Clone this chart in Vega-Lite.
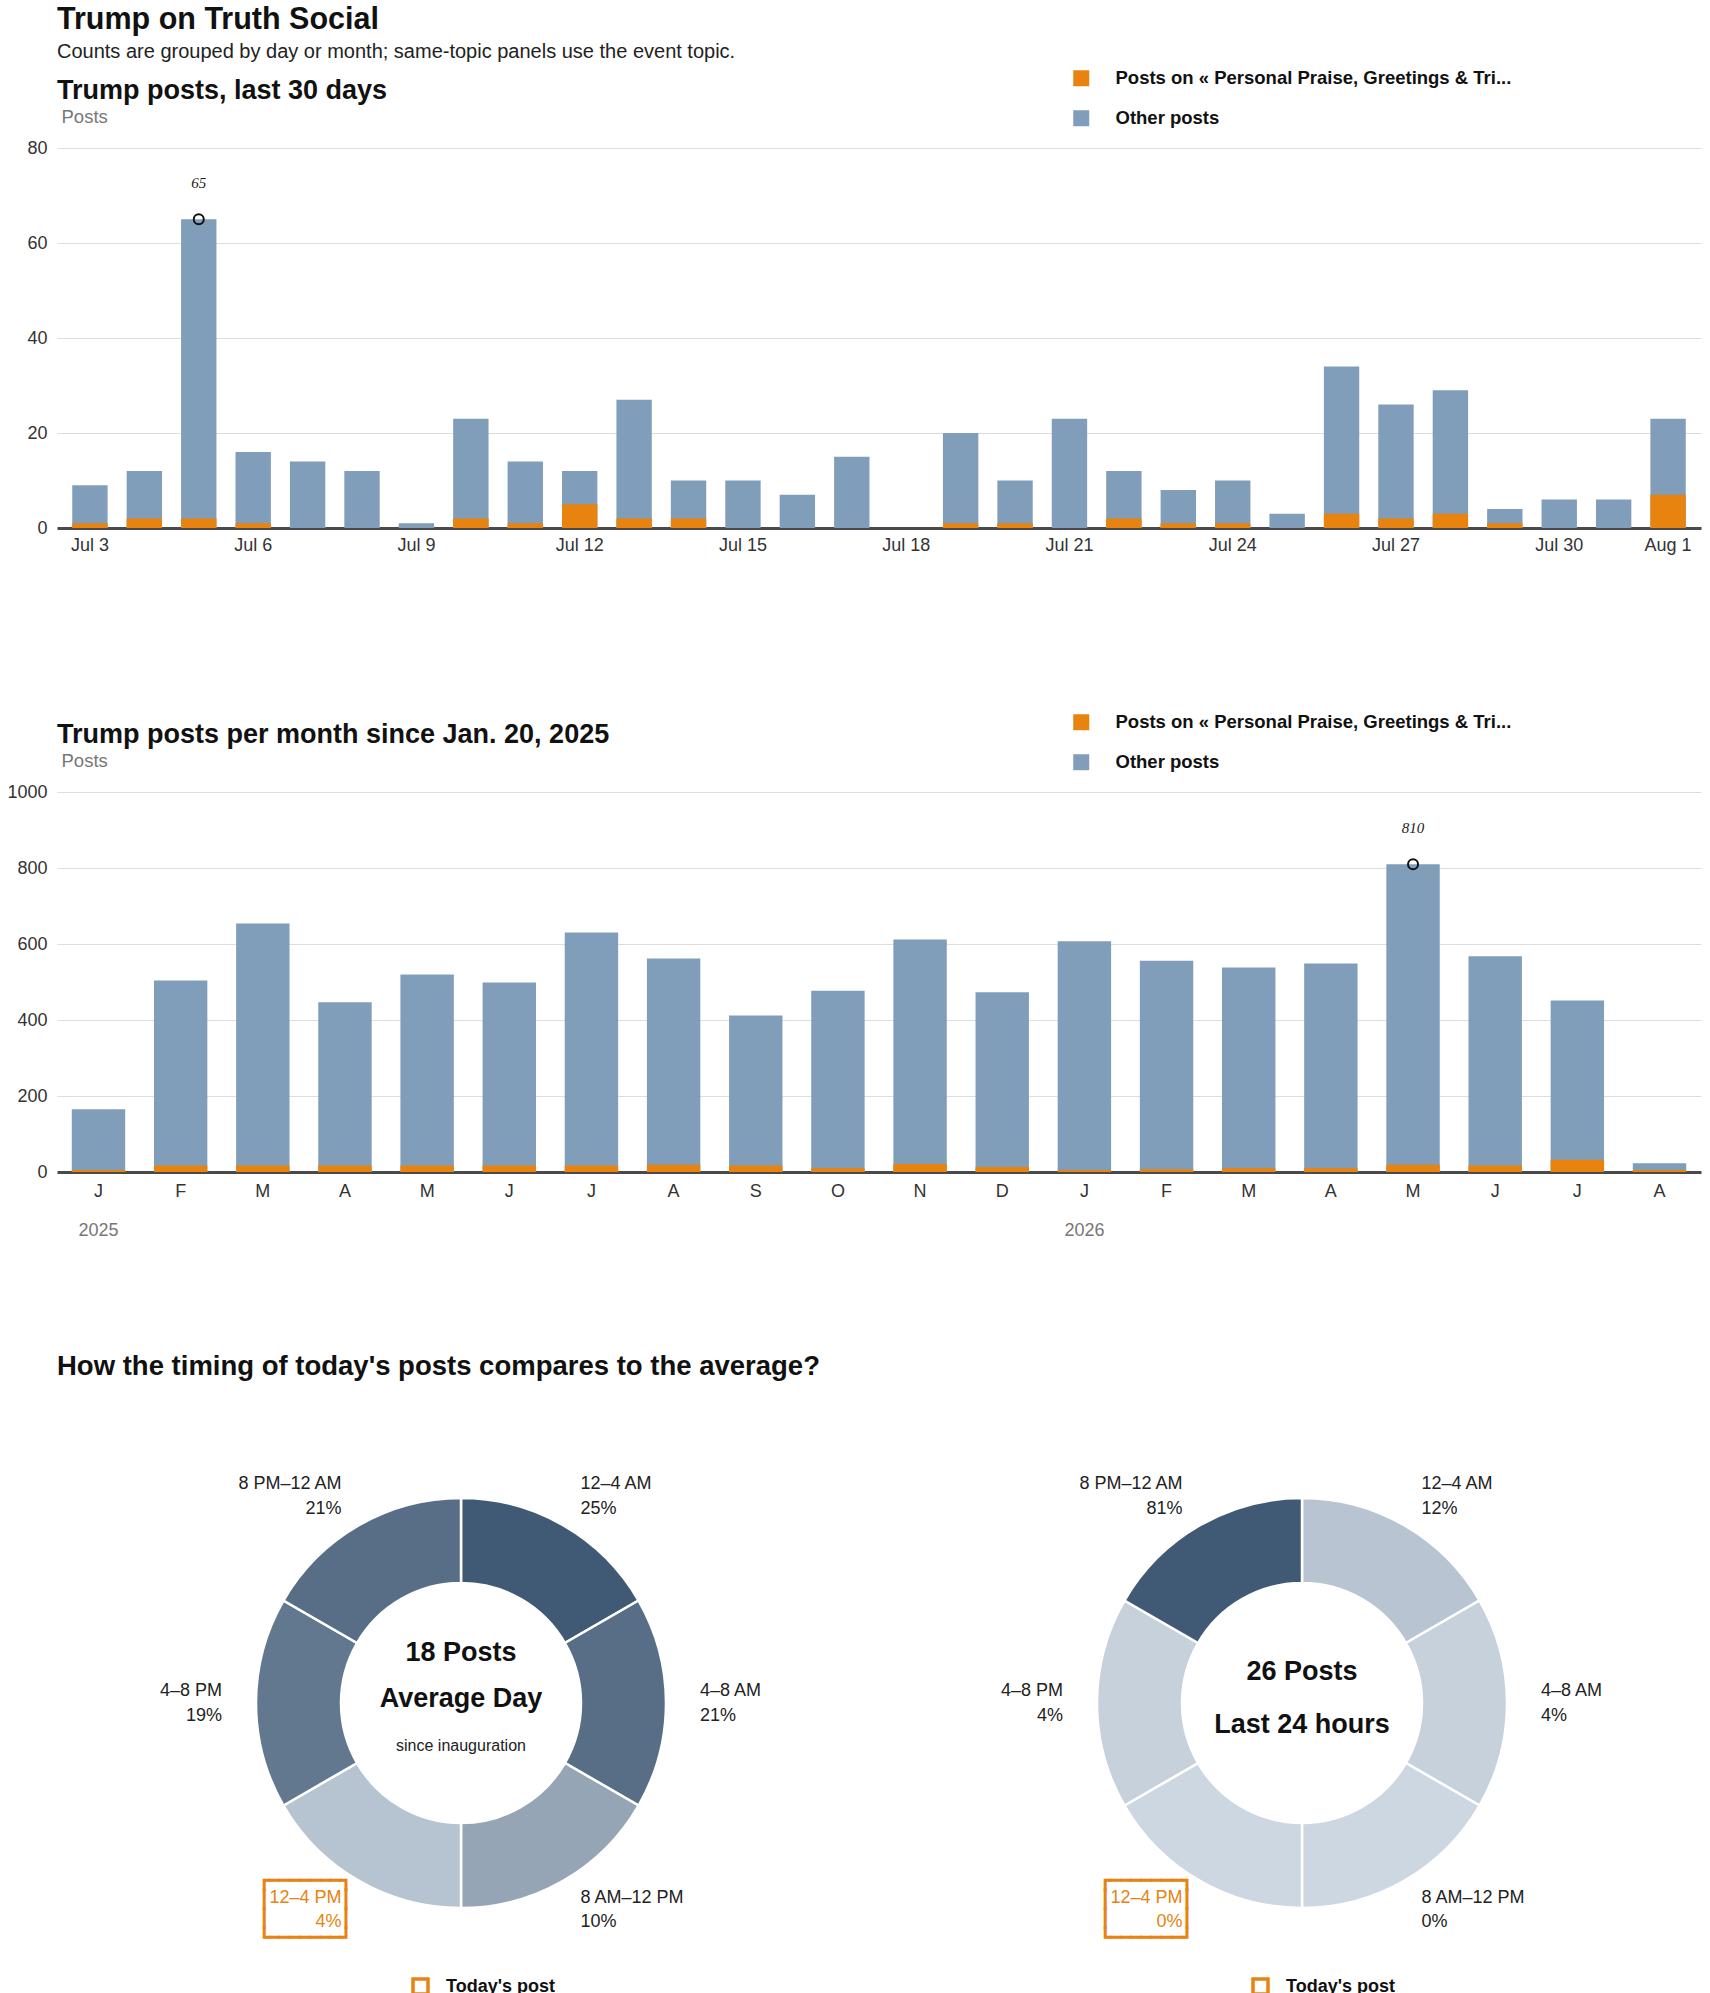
{
  "$schema": "https://vega.github.io/schema/vega-lite/v6.json",
  "background": "white",
  "padding": {"left": 6, "top": 4, "right": 5, "bottom": 5},
  "config": {
    "font": "Liberation Sans",
    "view": {"stroke": null},
    "title": {"anchor": "start", "frame": "group", "font": "Liberation Sans", "fontWeight": "bold", "color": "#111"},
    "axis": {"labelFont": "Liberation Sans", "labelFontSize": 18, "labelColor": "#333", "titleFont": "Liberation Sans"},
    "legend": {"labelFont": "Liberation Sans", "labelLimit": 600},
    "text": {"font": "Liberation Sans", "color": "#222"}
  },
  "title": {
    "text": "Trump on Truth Social",
    "subtitle": "Counts are grouped by day or month; same-topic panels use the event topic.",
    "fontSize": 30.5,
    "subtitleFont": "Liberation Sans",
    "subtitleFontSize": 20,
    "subtitleColor": "#222",
    "subtitlePadding": 7,
    "offset": 7
  },
  "spacing": 113,
  "resolve": {"scale": {"color": "independent", "stroke": "independent"}, "legend": {"color": "independent", "stroke": "independent"}},
  "vconcat": [
    {
      "spacing": 159,
      "resolve": {"scale": {"color": "independent"}, "legend": {"color": "independent"}},
      "vconcat": [
        {
          "title": {"text": "Trump posts, last 30 days", "fontSize": 27, "offset": -36},
          "width": 1644,
          "height": 380,
          "data": {"values": [
            {"date": "2026-07-03", "total": 9, "topic": 1},
            {"date": "2026-07-04", "total": 12, "topic": 2},
            {"date": "2026-07-05", "total": 65, "topic": 2},
            {"date": "2026-07-06", "total": 16, "topic": 1},
            {"date": "2026-07-07", "total": 14, "topic": 0},
            {"date": "2026-07-08", "total": 12, "topic": 0},
            {"date": "2026-07-09", "total": 1, "topic": 0},
            {"date": "2026-07-10", "total": 23, "topic": 2},
            {"date": "2026-07-11", "total": 14, "topic": 1},
            {"date": "2026-07-12", "total": 12, "topic": 5},
            {"date": "2026-07-13", "total": 27, "topic": 2},
            {"date": "2026-07-14", "total": 10, "topic": 2},
            {"date": "2026-07-15", "total": 10, "topic": 0},
            {"date": "2026-07-16", "total": 7, "topic": 0},
            {"date": "2026-07-17", "total": 15, "topic": 0},
            {"date": "2026-07-18", "total": 0, "topic": 0},
            {"date": "2026-07-19", "total": 20, "topic": 1},
            {"date": "2026-07-20", "total": 10, "topic": 1},
            {"date": "2026-07-21", "total": 23, "topic": 0},
            {"date": "2026-07-22", "total": 12, "topic": 2},
            {"date": "2026-07-23", "total": 8, "topic": 1},
            {"date": "2026-07-24", "total": 10, "topic": 1},
            {"date": "2026-07-25", "total": 3, "topic": 0},
            {"date": "2026-07-26", "total": 34, "topic": 3},
            {"date": "2026-07-27", "total": 26, "topic": 2},
            {"date": "2026-07-28", "total": 29, "topic": 3},
            {"date": "2026-07-29", "total": 4, "topic": 1},
            {"date": "2026-07-30", "total": 6, "topic": 0},
            {"date": "2026-07-31", "total": 6, "topic": 0},
            {"date": "2026-08-01", "total": 23, "topic": 7}
          ]},
          "encoding": {
            "x": {
              "field": "date", "type": "ordinal", "timeUnit": {"unit": "yearmonthdate", "utc": true}, "title": null,
              "scale": {"paddingInner": 0.35, "paddingOuter": 0.28},
              "axis": {
                "labelExpr": "(utcmonth(datum.value) == 6 && utcdate(datum.value) % 3 == 0) || utcmonth(datum.value) == 7 ? utcFormat(datum.value, '%b %-d') : ''",
                "labelAngle": 0, "ticks": false, "grid": false, "domainColor": "#4a4a4a", "domainWidth": 3,
                "labelPadding": 8, "labelOverlap": false
              }
            }
          },
          "layer": [
            {
              "mark": {"type": "bar"},
              "encoding": {
                "y": {
                  "field": "total", "type": "quantitative", "title": "Posts", "scale": {"domain": [0, 80]},
                  "axis": {
                    "values": [0, 20, 40, 60, 80], "domain": false, "ticks": false, "labelPadding": 10, "gridColor": "#dddddd",
                    "titleAngle": 0, "titleX": 4, "titleY": -32, "titleAlign": "left", "titleBaseline": "middle",
                    "titleColor": "#777", "titleFontWeight": "normal", "titleFontSize": 18.5
                  }
                },
                "color": {
                  "datum": "Other posts", "type": "nominal",
                  "scale": {"domain": ["Posts on « Personal Praise, Greetings & Tri...", "Other posts"], "range": ["#e8830f", "#809db9"]},
                  "legend": {
                    "orient": "none", "legendX": 1015, "legendY": -79, "title": null, "direction": "vertical",
                    "symbolType": "square", "symbolSize": 256, "symbolStrokeWidth": 0, "labelFontSize": 18.5,
                    "labelFontWeight": "bold", "labelColor": "#111", "labelOffset": 25, "rowPadding": 21, "padding": 0
                  }
                }
              }
            },
            {
              "mark": {"type": "bar"},
              "encoding": {
                "y": {"field": "topic", "type": "quantitative", "title": "Posts"},
                "color": {
                  "datum": "Posts on « Personal Praise, Greetings & Tri...", "type": "nominal",
                  "scale": {"domain": ["Posts on « Personal Praise, Greetings & Tri...", "Other posts"], "range": ["#e8830f", "#809db9"]}
                }
              }
            },
            {
              "transform": [
                {"joinaggregate": [{"op": "max", "field": "total", "as": "peak"}]},
                {"filter": "datum.total == datum.peak"}
              ],
              "mark": {"type": "point", "shape": "circle", "filled": false, "color": "#111", "strokeWidth": 2, "size": 100, "opacity": 1},
              "encoding": {"y": {"field": "total", "type": "quantitative", "title": "Posts"}}
            },
            {
              "transform": [
                {"joinaggregate": [{"op": "max", "field": "total", "as": "peak"}]},
                {"filter": "datum.total == datum.peak"}
              ],
              "mark": {"type": "text", "dy": -36, "font": "Liberation Serif", "fontStyle": "italic", "fontSize": 15, "baseline": "middle"},
              "encoding": {
                "y": {"field": "total", "type": "quantitative", "title": "Posts"},
                "text": {"field": "total", "type": "quantitative"}
              }
            }
          ]
        },
        {
          "title": {"text": "Trump posts per month since Jan. 20, 2025", "fontSize": 27, "offset": -36},
          "width": 1644,
          "height": 380,
          "data": {"values": [
            {"month": "2025-01-01", "total": 165, "topic": 5},
            {"month": "2025-02-01", "total": 504, "topic": 17},
            {"month": "2025-03-01", "total": 654, "topic": 17},
            {"month": "2025-04-01", "total": 447, "topic": 17},
            {"month": "2025-05-01", "total": 520, "topic": 17},
            {"month": "2025-06-01", "total": 499, "topic": 17},
            {"month": "2025-07-01", "total": 630, "topic": 17},
            {"month": "2025-08-01", "total": 562, "topic": 19},
            {"month": "2025-09-01", "total": 412, "topic": 17},
            {"month": "2025-10-01", "total": 477, "topic": 10},
            {"month": "2025-11-01", "total": 612, "topic": 21},
            {"month": "2025-12-01", "total": 473, "topic": 13},
            {"month": "2026-01-01", "total": 607, "topic": 5},
            {"month": "2026-02-01", "total": 556, "topic": 7},
            {"month": "2026-03-01", "total": 538, "topic": 10},
            {"month": "2026-04-01", "total": 549, "topic": 10},
            {"month": "2026-05-01", "total": 810, "topic": 19},
            {"month": "2026-06-01", "total": 568, "topic": 17},
            {"month": "2026-07-01", "total": 451, "topic": 32},
            {"month": "2026-08-01", "total": 23, "topic": 5}
          ]},
          "resolve": {"axis": {"x": "independent"}},
          "layer": [
            {
              "mark": {"type": "bar"},
              "encoding": {
                "x": {
                  "field": "month", "type": "ordinal", "timeUnit": {"unit": "yearmonth", "utc": true}, "title": null,
                  "scale": {"paddingInner": 0.35, "paddingOuter": 0.18},
                  "axis": {
                    "orient": "bottom", "labelExpr": "slice(utcFormat(datum.value, '%b'), 0, 1)",
                    "labelAngle": 0, "ticks": false, "grid": false, "domainColor": "#4a4a4a", "domainWidth": 3, "labelPadding": 10
                  }
                },
                "y": {
                  "field": "total", "type": "quantitative", "title": "Posts", "scale": {"domain": [0, 1000]},
                  "axis": {
                    "values": [0, 200, 400, 600, 800, 1000], "format": "d", "domain": false, "ticks": false, "labelPadding": 10,
                    "gridColor": "#dddddd", "titleAngle": 0, "titleX": 4, "titleY": -32, "titleAlign": "left",
                    "titleBaseline": "middle", "titleColor": "#777", "titleFontWeight": "normal", "titleFontSize": 18.5
                  }
                },
                "color": {
                  "datum": "Other posts", "type": "nominal",
                  "scale": {"domain": ["Posts on « Personal Praise, Greetings & Tri...", "Other posts"], "range": ["#e8830f", "#809db9"]},
                  "legend": {
                    "orient": "none", "legendX": 1015, "legendY": -79, "title": null, "direction": "vertical",
                    "symbolType": "square", "symbolSize": 256, "symbolStrokeWidth": 0, "labelFontSize": 18.5,
                    "labelFontWeight": "bold", "labelColor": "#111", "labelOffset": 25, "rowPadding": 21, "padding": 0
                  }
                }
              }
            },
            {
              "mark": {"type": "bar"},
              "encoding": {
                "x": {"field": "month", "type": "ordinal", "timeUnit": {"unit": "yearmonth", "utc": true}, "axis": null},
                "y": {"field": "topic", "type": "quantitative", "title": "Posts"},
                "color": {
                  "datum": "Posts on « Personal Praise, Greetings & Tri...", "type": "nominal",
                  "scale": {"domain": ["Posts on « Personal Praise, Greetings & Tri...", "Other posts"], "range": ["#e8830f", "#809db9"]}
                }
              }
            },
            {
              "transform": [
                {"joinaggregate": [{"op": "max", "field": "total", "as": "peak"}]},
                {"filter": "datum.total == datum.peak"}
              ],
              "mark": {"type": "point", "shape": "circle", "filled": false, "color": "#111", "strokeWidth": 2, "size": 100, "opacity": 1},
              "encoding": {
                "x": {
                  "field": "month", "type": "ordinal", "timeUnit": {"unit": "yearmonth", "utc": true}, "title": null,
                  "axis": {
                    "orient": "bottom", "labelExpr": "utcmonth(datum.value) == 0 ? utcFormat(datum.value, '%Y') : ''",
                    "labelAngle": 0, "ticks": false, "grid": false, "domain": false, "labelPadding": 49,
                    "labelColor": "#777", "labelOverlap": false
                  }
                },
                "y": {"field": "total", "type": "quantitative", "title": "Posts"}
              }
            },
            {
              "transform": [
                {"joinaggregate": [{"op": "max", "field": "total", "as": "peak"}]},
                {"filter": "datum.total == datum.peak"}
              ],
              "mark": {"type": "text", "dy": -36, "font": "Liberation Serif", "fontStyle": "italic", "fontSize": 15, "baseline": "middle"},
              "encoding": {
                "x": {"field": "month", "type": "ordinal", "timeUnit": {"unit": "yearmonth", "utc": true}, "axis": null},
                "y": {"field": "total", "type": "quantitative", "title": "Posts"},
                "text": {"field": "total", "type": "quantitative"}
              }
            }
          ]
        }
      ]
    },
    {
      "title": {"text": "How the timing of today's posts compares to the average?", "fontSize": 27.5, "offset": 78},
      "spacing": 37,
      "resolve": {"scale": {"color": "independent", "stroke": "independent"}, "legend": {"stroke": "independent"}},
      "hconcat": [
        {
          "width": 808,
          "height": 470,
          "data": {"values": [
            {"slot": "12–4 AM", "start": 0, "hours": 4, "share": 0.25, "now": false},
            {"slot": "4–8 AM", "start": 4, "hours": 4, "share": 0.21, "now": false},
            {"slot": "8 AM–12 PM", "start": 8, "hours": 4, "share": 0.10, "now": false},
            {"slot": "12–4 PM", "start": 12, "hours": 4, "share": 0.04, "now": true},
            {"slot": "4–8 PM", "start": 16, "hours": 4, "share": 0.19, "now": false},
            {"slot": "8 PM–12 AM", "start": 20, "hours": 4, "share": 0.21, "now": false}
          ]},
          "layer": [
            {
              "mark": {"type": "arc", "outerRadius": 205, "innerRadius": 120, "stroke": "white", "strokeWidth": 2.5},
              "encoding": {
                "theta": {"field": "hours", "type": "quantitative", "stack": true},
                "order": {"field": "start", "type": "quantitative"},
                "color": {"field": "share", "type": "quantitative", "scale": {"range": ["#cdd7e1", "#405a75"], "domainMin": 0, "interpolate": "rgb"}, "legend": null}
              }
            },
            {
              "mark": {"type": "text", "radius": 239, "dy": -12, "fontSize": 18, "baseline": "middle", "align": {"expr": "datum.start < 12 ? 'left' : 'right'"}},
              "encoding": {
                "theta": {"field": "hours", "type": "quantitative", "stack": true},
                "order": {"field": "start", "type": "quantitative"},
                "text": {"field": "slot", "type": "nominal"},
                "color": {"condition": {"test": "datum.now", "value": "#e8830f"}, "value": "#222"}
              }
            },
            {
              "mark": {"type": "text", "radius": 239, "dy": 12.5, "fontSize": 18, "baseline": "middle", "align": {"expr": "datum.start < 12 ? 'left' : 'right'"}},
              "encoding": {
                "theta": {"field": "hours", "type": "quantitative", "stack": true},
                "order": {"field": "start", "type": "quantitative"},
                "text": {"field": "share", "type": "quantitative", "format": ".0%"},
                "color": {"condition": {"test": "datum.now", "value": "#e8830f"}, "value": "#222"}
              }
            },
            {
              "mark": {"type": "text", "radius": 239, "dx": -36.5, "dy": -29, "font": "DejaVu Sans Mono", "fontSize": 17, "lineHeight": 19, "lineBreak": "\n", "baseline": "middle", "align": "center", "filled": false, "strokeWidth": 1.6},
              "encoding": {
                "theta": {"field": "hours", "type": "quantitative", "stack": true},
                "order": {"field": "start", "type": "quantitative"},
                "text": {"value": "┌───────┐\n│\u00a0\u00a0\u00a0\u00a0\u00a0\u00a0\u00a0│\n│\u00a0\u00a0\u00a0\u00a0\u00a0\u00a0\u00a0│\n└───────┘"},
                "opacity": {"condition": {"test": "datum.now", "value": 1}, "value": 0},
                "stroke": {
                  "datum": "Today's post", "type": "nominal", "scale": {"range": ["#e8830f"]},
                  "legend": {
                    "orient": "none", "legendX": 354, "legendY": 509, "title": null, "symbolType": "square", "symbolSize": 225,
                    "symbolFillColor": "white", "symbolStrokeWidth": 3.5, "labelFontSize": 18, "labelFontWeight": "bold",
                    "labelColor": "#111", "labelOffset": 16, "padding": 0
                  }
                }
              }
            },
            {
              "data": {"values": [{"line": "18 Posts"}]},
              "mark": {"type": "text", "dy": -50, "fontSize": 27, "fontWeight": "bold", "color": "#111", "baseline": "middle"},
              "encoding": {"text": {"field": "line", "type": "nominal"}}
            },
            {
              "data": {"values": [{"line": "Average Day"}]},
              "mark": {"type": "text", "dy": -4, "fontSize": 27, "fontWeight": "bold", "color": "#111", "baseline": "middle"},
              "encoding": {"text": {"field": "line", "type": "nominal"}}
            },
            {
              "data": {"values": [{"line": "since inauguration"}]},
              "mark": {"type": "text", "dy": 43, "fontSize": 16, "color": "#222", "baseline": "middle"},
              "encoding": {"text": {"field": "line", "type": "nominal"}}
            }
          ]
        },
        {
          "width": 800,
          "height": 470,
          "data": {"values": [
            {"slot": "12–4 AM", "start": 0, "hours": 4, "share": 0.12, "now": false},
            {"slot": "4–8 AM", "start": 4, "hours": 4, "share": 0.04, "now": false},
            {"slot": "8 AM–12 PM", "start": 8, "hours": 4, "share": 0.0, "now": false},
            {"slot": "12–4 PM", "start": 12, "hours": 4, "share": 0.0, "now": true},
            {"slot": "4–8 PM", "start": 16, "hours": 4, "share": 0.04, "now": false},
            {"slot": "8 PM–12 AM", "start": 20, "hours": 4, "share": 0.81, "now": false}
          ]},
          "layer": [
            {
              "mark": {"type": "arc", "outerRadius": 205, "innerRadius": 120, "stroke": "white", "strokeWidth": 2.5},
              "encoding": {
                "theta": {"field": "hours", "type": "quantitative", "stack": true},
                "order": {"field": "start", "type": "quantitative"},
                "color": {"field": "share", "type": "quantitative", "scale": {"range": ["#cdd7e1", "#405a75"], "domainMin": 0, "interpolate": "rgb"}, "legend": null}
              }
            },
            {
              "mark": {"type": "text", "radius": 239, "dy": -12, "fontSize": 18, "baseline": "middle", "align": {"expr": "datum.start < 12 ? 'left' : 'right'"}},
              "encoding": {
                "theta": {"field": "hours", "type": "quantitative", "stack": true},
                "order": {"field": "start", "type": "quantitative"},
                "text": {"field": "slot", "type": "nominal"},
                "color": {"condition": {"test": "datum.now", "value": "#e8830f"}, "value": "#222"}
              }
            },
            {
              "mark": {"type": "text", "radius": 239, "dy": 12.5, "fontSize": 18, "baseline": "middle", "align": {"expr": "datum.start < 12 ? 'left' : 'right'"}},
              "encoding": {
                "theta": {"field": "hours", "type": "quantitative", "stack": true},
                "order": {"field": "start", "type": "quantitative"},
                "text": {"field": "share", "type": "quantitative", "format": ".0%"},
                "color": {"condition": {"test": "datum.now", "value": "#e8830f"}, "value": "#222"}
              }
            },
            {
              "mark": {"type": "text", "radius": 239, "dx": -36.5, "dy": -29, "font": "DejaVu Sans Mono", "fontSize": 17, "lineHeight": 19, "lineBreak": "\n", "baseline": "middle", "align": "center", "filled": false, "strokeWidth": 1.6},
              "encoding": {
                "theta": {"field": "hours", "type": "quantitative", "stack": true},
                "order": {"field": "start", "type": "quantitative"},
                "text": {"value": "┌───────┐\n│\u00a0\u00a0\u00a0\u00a0\u00a0\u00a0\u00a0│\n│\u00a0\u00a0\u00a0\u00a0\u00a0\u00a0\u00a0│\n└───────┘"},
                "opacity": {"condition": {"test": "datum.now", "value": 1}, "value": 0},
                "stroke": {
                  "datum": "Today's post", "type": "nominal", "scale": {"range": ["#e8830f"]},
                  "legend": {
                    "orient": "none", "legendX": 349, "legendY": 509, "title": null, "symbolType": "square", "symbolSize": 225,
                    "symbolFillColor": "white", "symbolStrokeWidth": 3.5, "labelFontSize": 18, "labelFontWeight": "bold",
                    "labelColor": "#111", "labelOffset": 16, "padding": 0
                  }
                }
              }
            },
            {
              "data": {"values": [{"line": "26 Posts"}]},
              "mark": {"type": "text", "dy": -31, "fontSize": 27, "fontWeight": "bold", "color": "#111", "baseline": "middle"},
              "encoding": {"text": {"field": "line", "type": "nominal"}}
            },
            {
              "data": {"values": [{"line": "Last 24 hours"}]},
              "mark": {"type": "text", "dy": 22, "fontSize": 27, "fontWeight": "bold", "color": "#111", "baseline": "middle"},
              "encoding": {"text": {"field": "line", "type": "nominal"}}
            }
          ]
        }
      ]
    }
  ]
}
